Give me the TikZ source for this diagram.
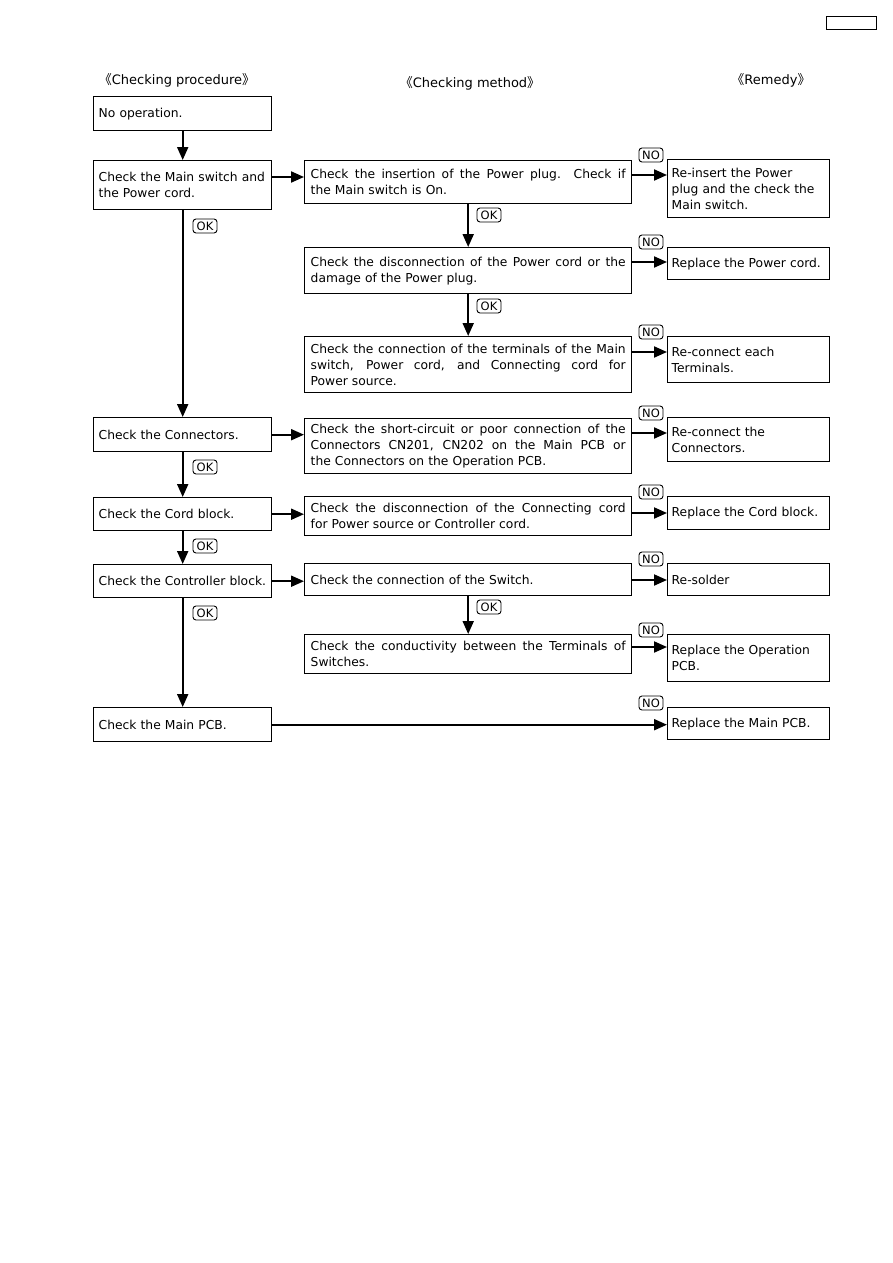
\documentclass[tikz,border=0pt]{standalone}
\usepackage{fontspec}
\setmainfont{DejaVu Sans}
\newfontfamily\cjkf{Noto Sans CJK JP}
\usetikzlibrary{arrows.meta}
\newcommand\jl[1]{\makebox[315pt][s]{\spaceskip=0pt\xspaceskip=0pt\relax #1}}
\begin{document}
\begin{tikzpicture}[x=1pt,y=-1pt,
  box/.style={draw, line width=1.4pt, rectangle, anchor=north west, inner ysep=0pt, align=left,
    font=\fontsize{12.3}{16}\selectfont},
  lbox/.style={box, minimum width=178pt, text width=168pt, inner xsep=5pt},
  mbox/.style={box, minimum width=327pt, text width=315pt, inner xsep=6pt},
  rbox/.style={box, minimum width=162pt, text width=154pt, inner xsep=4pt},
  arr/.style={line width=2pt, -{Triangle[length=13pt,width=11pt]}},
  lab/.style={draw, line width=0.9pt, rounded corners=3pt, inner xsep=1pt, inner ysep=0pt,
    minimum width=24pt, minimum height=14pt, font=\fontsize{11.5}{11.5}\selectfont},
  hdr/.style={font=\fontsize{13}{13}\selectfont}
]
\fill[white] (0,0) rectangle (893,1263);
\useasboundingbox (0,0) rectangle (893,1263);

\node[draw, line width=1.4pt, anchor=north west, minimum width=50pt, minimum height=13pt, inner sep=0pt] (tag) at (826,16) {};

\node[hdr] (h1) at (177,80) {{\cjkf 《}Checking procedure{\cjkf 》}};
\node[hdr] (h2) at (470,83) {{\cjkf 《}Checking method{\cjkf 》}};
\node[hdr] (h3) at (771,80) {{\cjkf 《}Remedy{\cjkf 》}};

% left column
\node[lbox, minimum height=34pt] (n0) at (93,96) {No operation.};
\node[lbox, minimum height=49pt] (n1) at (93,160) {Check the Main switch and\\the Power cord.};
\node[lbox, minimum height=34pt] (n2) at (93,417) {Check the Connectors.};
\node[lbox, minimum height=33pt] (n3) at (93,497) {Check the Cord block.};
\node[lbox, minimum height=33pt] (n4) at (93,564) {Check the Controller block.};
\node[lbox, minimum height=34pt] (n5) at (93,707) {Check the Main PCB.};

% middle column
\node[mbox, minimum height=43pt] (m1) at (304,160) {\jl{Check the insertion of the Power plug.\ \ Check if}\\the Main switch is On.};
\node[mbox, minimum height=46pt] (m2) at (304,247) {\jl{Check the disconnection of the Power cord or the}\\damage of the Power plug.};
\node[mbox, minimum height=56pt] (m3) at (304,336) {\jl{Check the connection of the terminals of the Main}\\\jl{switch, Power cord, and Connecting cord for}\\Power source.};
\node[mbox, minimum height=55pt] (m4) at (304,418) {\jl{Check the short-circuit or poor connection of the}\\\jl{Connectors CN201, CN202 on the Main PCB or}\\the Connectors on the Operation PCB.};
\node[mbox, minimum height=39pt] (m5) at (304,496) {\jl{Check the disconnection of the Connecting cord}\\for Power source or Controller cord.};
\node[mbox, minimum height=32pt] (m6) at (304,563) {Check the connection of the Switch.};
\node[mbox, minimum height=39pt] (m7) at (304,634) {\jl{Check the conductivity between the Terminals of}\\Switches.};

% remedy column
\node[rbox, minimum height=58pt] (r1) at (667,159) {Re-insert the Power\\plug and the check the\\Main switch.};
\node[rbox, minimum height=32pt] (r2) at (667,247) {Replace the Power cord.};
\node[rbox, minimum height=46pt] (r3) at (667,336) {Re-connect each\\Terminals.};
\node[rbox, minimum height=44pt] (r4) at (667,417) {Re-connect the\\Connectors.};
\node[rbox, minimum height=33pt] (r5) at (667,496) {Replace the Cord block.};
\node[rbox, minimum height=32pt] (r6) at (667,563) {Re-solder};
\node[rbox, minimum height=47pt] (r7) at (667,634) {Replace the Operation\\PCB.};
\node[rbox, minimum height=32pt] (r8) at (667,707) {Replace the Main PCB.};

% coordinates for arrow heights
\coordinate (ya) at (0,177);
\coordinate (y1) at (0,175);
\coordinate (y2) at (0,262);
\coordinate (y3) at (0,352);
\coordinate (y4) at (0,433);
\coordinate (y5) at (0,513);
\coordinate (y6) at (0,580);
\coordinate (y7) at (0,647);

% left column flow
\draw[arr] (n0) -- (n1);
\draw[arr] (n1) -- (n2);
\draw[arr] (n2) -- (n3);
\draw[arr] (n3) -- (n4);
\draw[arr] (n4) -- (n5);

% left to middle
\draw[arr] (n1.east |- ya) -- (m1.west |- ya);
\draw[arr] (n2.east) -- (n2.east -| m4.west);
\draw[arr] (n3.east) -- (n3.east -| m5.west);
\draw[arr] (n4.east) -- (n4.east -| m6.west);
\draw[arr] (n5.east) -- (n5.east -| r8.west);

% middle column flow
\draw[arr] (m1) -- (m2);
\draw[arr] (m2) -- (m3);
\draw[arr] (m6) -- (m7);

% middle to remedy
\draw[arr] (m1.east |- y1) -- (r1.west |- y1);
\draw[arr] (m2.east |- y2) -- (r2.west |- y2);
\draw[arr] (m3.east |- y3) -- (r3.west |- y3);
\draw[arr] (m4.east |- y4) -- (r4.west |- y4);
\draw[arr] (m5.east |- y5) -- (r5.west |- y5);
\draw[arr] (m6.east |- y6) -- (r6.west |- y6);
\draw[arr] (m7.east |- y7) -- (r7.west |- y7);

% OK labels
\node[lab] (ok1) at (205,226) {OK};
\node[lab] (ok2) at (205,467) {OK};
\node[lab] (ok3) at (205,546) {OK};
\node[lab] (ok4) at (205,613) {OK};
\node[lab] (ok5) at (489,215) {OK};
\node[lab] (ok6) at (489,306) {OK};
\node[lab] (ok7) at (489,607) {OK};

% NO labels
\node[lab] (no1) at (651,155) {NO};
\node[lab] (no2) at (651,242) {NO};
\node[lab] (no3) at (651,332) {NO};
\node[lab] (no4) at (651,413) {NO};
\node[lab] (no5) at (651,492) {NO};
\node[lab] (no6) at (651,559) {NO};
\node[lab] (no7) at (651,630) {NO};
\node[lab] (no8) at (651,703) {NO};
\end{tikzpicture}
\end{document}
